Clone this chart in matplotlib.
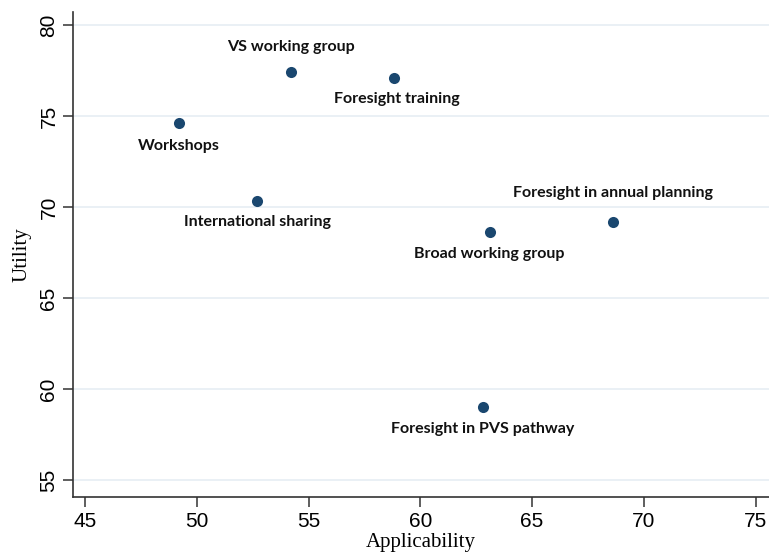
import matplotlib.pyplot as plt

# data
labels = ["Workshops", "VS working group", "Foresight training", "International sharing",
          "Broad working group", "Foresight in annual planning", "Foresight in PVS pathway"]
applicability = [49.2, 54.2, 58.8, 52.7, 63.1, 68.6, 62.8]
utility = [74.6, 77.4, 77.1, 70.35, 68.6, 69.2, 59.0]
x_ticks = [45, 50, 55, 60, 65, 70, 75]
y_ticks = [55, 60, 65, 70, 75, 80]

# label offsets in pixels (dx, dy)
offsets = [(0, -23), (0, 25), (3, -21), (0, -21), (0, -22), (0, 29), (0, -22)]

navy = "#1a476f"

fig = plt.figure(figsize=(7.69, 5.54), dpi=100)
ax = fig.add_axes([0.095, 0.103, 0.905, 0.875])

ax.scatter(applicability, utility, s=64, color=navy, zorder=3, linewidths=0)

for lab, x, y, (dx, dy) in zip(labels, applicability, utility, offsets):
    ax.annotate(lab, (x, y), xytext=(dx, dy), textcoords="offset pixels",
                ha="center", va="center", fontsize=11.5, fontweight="bold",
                family="Lato", color="#111111", zorder=4)

ax.set_xlim(44.46, 75.6)
ax.set_ylim(54.07, 80.7)
ax.set_xticks(x_ticks)
ax.set_yticks(y_ticks)
ax.grid(axis="y", color="#e6eef3", linewidth=1.2)
ax.set_axisbelow(True)

ax.spines["top"].set_visible(False)
ax.spines["right"].set_visible(False)
for s in ["left", "bottom"]:
    ax.spines[s].set_linewidth(1.2)
    ax.spines[s].set_color("#333333")

ax.tick_params(length=7, width=1.1, color="#333333", labelsize=15)
for t in ax.get_xticklabels() + ax.get_yticklabels():
    t.set_family("Liberation Sans")
for t in ax.get_yticklabels():
    t.set_rotation(90)
    t.set_va("center")

ax.set_xlabel("Applicability", family="Liberation Serif", fontsize=15, labelpad=2)
ax.set_ylabel("Utility", family="Liberation Serif", fontsize=15, labelpad=6)

fig.savefig("out.png", dpi=100)
